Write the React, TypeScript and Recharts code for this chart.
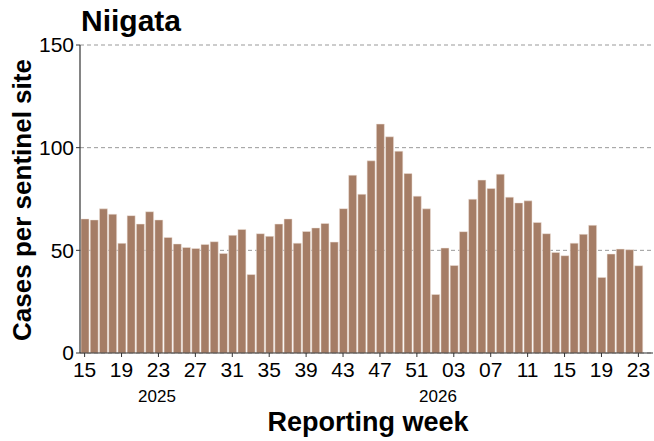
import React from 'react';
import { BarChart, Bar, XAxis, YAxis, CartesianGrid } from 'recharts';

// reporting weeks (2025 wk15 .. 2026 wk23)
const weeks2025 = Array.from({ length: 38 }, (_, i) => String(15 + i).padStart(2, '0'));
const weeks2026 = Array.from({ length: 23 }, (_, i) => String(1 + i).padStart(2, '0'));

const cases2025 = [
  65.3, 64.8, 70.2, 67.6, 53.4, 66.9, 62.8, 68.8, 64.8, 56.3,
  53.1, 51.4, 50.9, 52.9, 54.2, 48.5, 57.3, 60.2, 38.2, 58.1,
  56.8, 62.8, 65.3, 53.5, 59.2, 60.9, 63.1, 54.0, 70.3, 86.6,
  77.3, 93.6, 111.5, 105.3, 98.3, 87.4, 76.4, 70.2,
];
const cases2026 = [
  28.5, 51.1, 42.6, 59.1, 74.9, 84.2, 80.1, 87.1, 75.9, 73.1,
  74.1, 63.6, 58.1, 49.0, 47.4, 53.5, 57.8, 62.2, 36.8, 48.2,
  50.6, 50.3, 42.5,
];

const yTicks = [0, 50, 100, 150];

const data = [
  ...weeks2025.map((w, i) => ({ key: `2025-${w}`, cases: cases2025[i] })),
  ...weeks2026.map((w, i) => ({ key: `2026-${w}`, cases: cases2026[i] })),
];

const FONT = '"Liberation Sans", Arial, sans-serif';
const AXIS = '#333333';

export default function App() {
  return (
    <div style={{ position: 'absolute', left: 0, top: 0, width: 654, height: 441, fontFamily: FONT, background: '#fff' }}>
      <BarChart
        width={654}
        height={441}
        data={data}
        margin={{ top: 45, right: 1, bottom: 58, left: 0 }}
      >
        <CartesianGrid vertical={false} stroke="#999" strokeDasharray="4 3" />
        <XAxis
          dataKey="key"
          interval={3}
          tickFormatter={(v: string) => v.slice(5)}
          height={30}
          padding={{ left: 0, right: 10 }}
          axisLine={{ stroke: AXIS, strokeWidth: 1.2 }}
          tickLine={{ stroke: AXIS }}
          tickSize={4}
          tickMargin={5}
          tick={{ fill: '#000', fontSize: 21, fontFamily: FONT }}
        />
        <YAxis
          width={80}
          domain={[0, 150]}
          ticks={yTicks}
          axisLine={{ stroke: AXIS, strokeWidth: 1.2 }}
          tickLine={{ stroke: AXIS }}
          tickSize={4}
          tickMargin={2}
          tick={{ fill: '#000', fontSize: 21, fontFamily: FONT }}
        />
        <Bar dataKey="cases" fill="#a57d66" stroke="#f1e4dc" strokeWidth={0.5} barSize={8} isAnimationActive={false} />
      </BarChart>

      <div style={{ position: 'absolute', left: 81, top: 3, fontSize: 30, fontWeight: 'bold', lineHeight: '36px' }}>
        Niigata
      </div>
      <div style={{ position: 'absolute', left: 137, top: 387, width: 40, textAlign: 'center', fontSize: 17, lineHeight: '20px' }}>
        2025
      </div>
      <div style={{ position: 'absolute', left: 418, top: 387, width: 40, textAlign: 'center', fontSize: 17, lineHeight: '20px' }}>
        2026
      </div>
      <div style={{ position: 'absolute', left: 168, top: 406, width: 400, textAlign: 'center', fontSize: 27, fontWeight: 'bold', lineHeight: '32px' }}>
        Reporting week
      </div>
      <div
        style={{
          position: 'absolute', left: 22 - 160, top: 200 - 16, width: 320, textAlign: 'center',
          fontSize: 26, fontWeight: 'bold', lineHeight: '32px', transform: 'rotate(-90deg)',
        }}
      >
        Cases per sentinel site
      </div>
    </div>
  );
}
